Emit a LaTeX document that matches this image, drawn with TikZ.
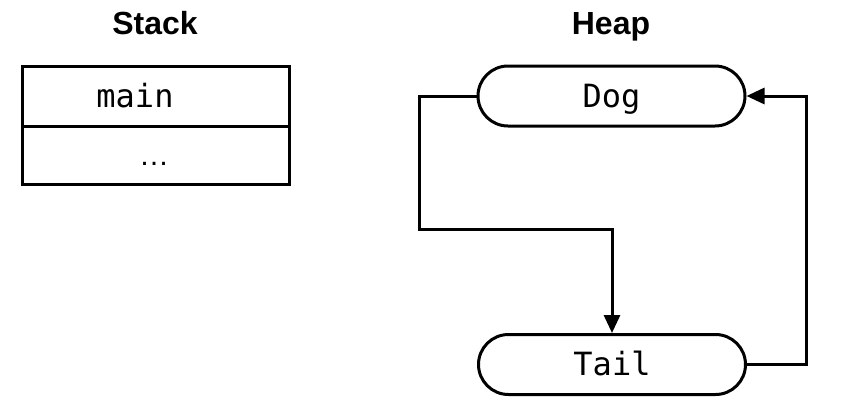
\documentclass[tikz,border=0pt]{standalone}
\usepackage{fontspec}
\setmainfont{Liberation Sans}
\setmonofont{DejaVu Sans Mono}
\usetikzlibrary{arrows.meta}
\tikzset{
	title/.style={font=\fontsize{16}{18}\selectfont\bfseries, anchor=base},
	code/.style={font=\fontsize{16}{18}\selectfont\ttfamily},
	obj/.style={draw, line width=1.5pt, rounded corners=15pt, minimum width=133.5pt, minimum height=30pt, text height=11.5pt, text depth=0.5pt, code},
	link/.style={line width=1.5pt, -{Triangle[length=9pt,width=8pt]}}
}
\begin{document}
\begin{tikzpicture}[x=0.5pt,y=-0.5pt]
	\useasboundingbox (0,0) rectangle (847,419);
	% Stack
	\node[title] (stacktitle) at (155,34) {Stack};
	\draw[line width=1.5pt] (22,66) rectangle (289,126);
	\draw[line width=1.5pt] (22,126) rectangle (289,184);
	\node[code, anchor=base] (mainlbl) at (135,107) {main};
	\node[font=\fontsize{15}{18}\selectfont, anchor=base] (dots) at (154,165) {…};
	% Heap
	\node[title] (heaptitle) at (611,34) {Heap};
	\node[obj] (dog) at (611.5,96) {Dog};
	\node[obj] (tail) at (612,364.5) {Tail};
	\coordinate (bend) at (419,229);
	\coordinate (rise) at (806,229);
	\draw[link] (dog.west) -| (bend) -| (tail.north);
	\draw[link] (tail.east) -| (rise |- dog.east) -- (dog.east);
\end{tikzpicture}
\end{document}
